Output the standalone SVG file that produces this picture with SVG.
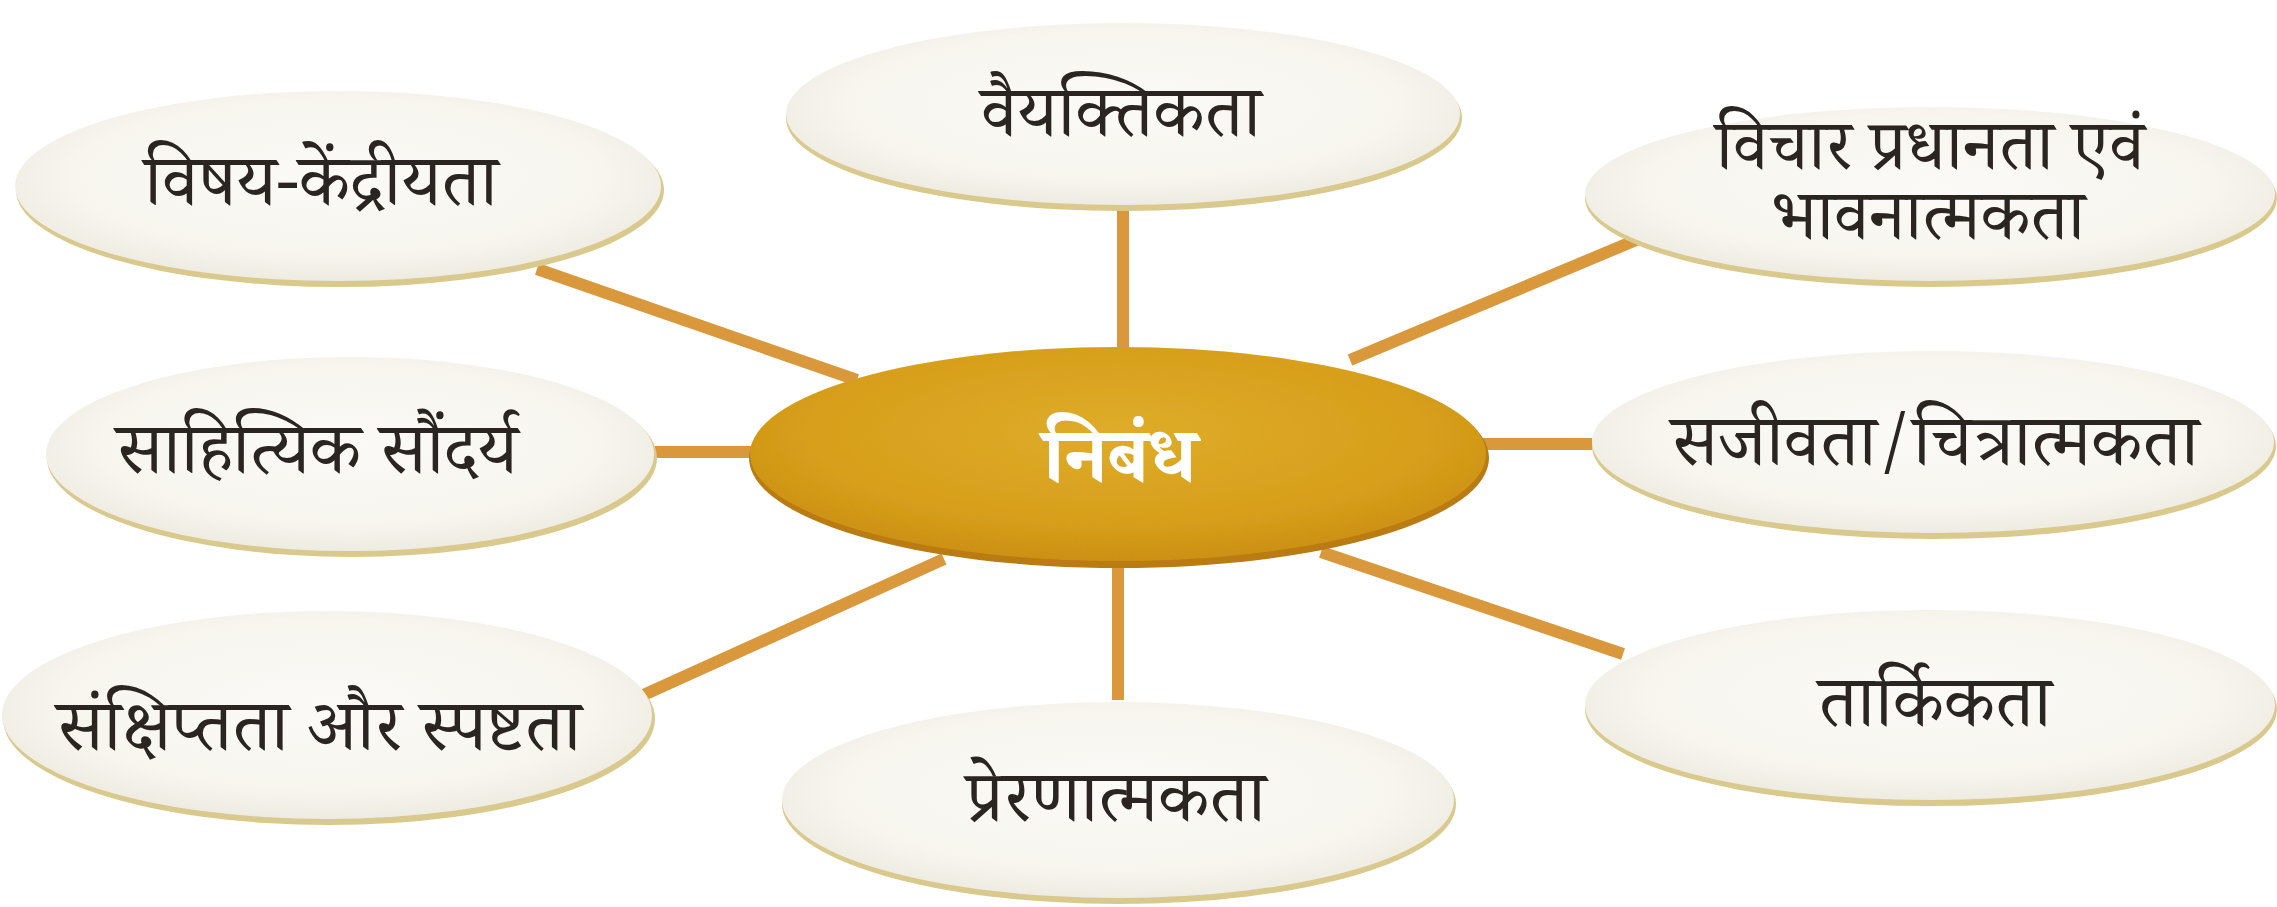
<svg xmlns="http://www.w3.org/2000/svg" width="2277" height="907" viewBox="0 0 2277 907">
<defs>
<radialGradient id="gOuter" cx="50%" cy="45%" r="55%">
<stop offset="0" stop-color="#fbfaf7"/>
<stop offset="0.75" stop-color="#f7f5ee"/>
<stop offset="1" stop-color="#eeebe2"/>
</radialGradient>
<radialGradient id="gCenter" cx="50%" cy="40%" r="60%">
<stop offset="0" stop-color="#e2ae2a"/>
<stop offset="0.7" stop-color="#d99e1c"/>
<stop offset="1" stop-color="#cc8c12"/>
</radialGradient>
<filter id="grain" x="-5%" y="-5%" width="110%" height="110%">
<feTurbulence type="fractalNoise" baseFrequency="0.8" numOctaves="2" result="n"/>
<feColorMatrix in="n" type="matrix" values="0 0 0 0 0.6  0 0 0 0 0.38  0 0 0 0 0.02  0 0 0 0.3 0" result="c"/>
<feComposite in="c" in2="SourceGraphic" operator="in" result="m"/>
<feMerge><feMergeNode in="SourceGraphic"/><feMergeNode in="m"/></feMerge>
</filter>
</defs>
<style>
.shadow{fill:#d9c98c;}
.outer{fill:url(#gOuter);}
.csh{fill:#b97b12;}
.center{fill:url(#gCenter);}
.lbl{font-family:"Noto Serif Devanagari","Noto Sans Devanagari","Lohit Devanagari","Noto Sans",sans-serif;font-size:72px;fill:#2a2520;text-anchor:middle;dominant-baseline:central;}
.two{font-size:70px;}
.clbl{font-family:"Noto Serif Devanagari","Noto Sans Devanagari","Lohit Devanagari","Noto Sans",sans-serif;font-size:78px;font-weight:bold;fill:#ffffff;text-anchor:middle;dominant-baseline:central;}
.conn{stroke:#d9983c;stroke-width:12;stroke-linecap:butt;fill:none;}
</style>
<rect width="2277" height="907" fill="#ffffff"/>
<g id="connectors">
<line class="conn" x1="1123" y1="205" x2="1123" y2="350"/>
<line class="conn" x1="1118" y1="560" x2="1118" y2="700"/>
<line class="conn" x1="537" y1="269" x2="857" y2="380"/>
<line class="conn" x1="655" y1="452" x2="760" y2="452"/>
<line class="conn" x1="639" y1="697" x2="944" y2="559"/>
<line class="conn" x1="1350" y1="360" x2="1648" y2="235"/>
<line class="conn" x1="1480" y1="444" x2="1592" y2="444"/>
<line class="conn" x1="1321" y1="552" x2="1623" y2="654"/>
</g>
<g id="node-vishay">
<ellipse class="shadow" cx="340" cy="190" rx="324" ry="97"/>
<ellipse class="outer" cx="338" cy="186" rx="323" ry="95"/>
<text class="lbl" x="321" y="194">विषय-केंद्रीयता</text>
</g>
<g id="node-sahityik">
<ellipse class="shadow" cx="352" cy="458" rx="305" ry="99"/>
<ellipse class="outer" cx="350" cy="454" rx="304" ry="97"/>
<text class="lbl" x="317" y="462">साहित्यिक सौंदर्य</text>
</g>
<g id="node-sankshipt">
<ellipse class="shadow" cx="329" cy="719" rx="326" ry="106"/>
<ellipse class="outer" cx="327" cy="715" rx="325" ry="104"/>
<text class="lbl" x="319" y="739">संक्षिप्तता और स्पष्टता</text>
</g>
<g id="node-vaiyaktik">
<ellipse class="shadow" cx="1124" cy="118" rx="338" ry="93"/>
<ellipse class="outer" cx="1123" cy="114" rx="337" ry="91"/>
<text class="lbl" x="1121" y="125">वैयक्तिकता</text>
</g>
<g id="node-center">
<ellipse class="csh" cx="1119" cy="458" rx="370" ry="110"/>
<ellipse class="center" cx="1118" cy="454" rx="368" ry="107" filter="url(#grain)"/>
<text class="clbl" x="1120" y="470">निबंध</text>
</g>
<g id="node-prerna">
<ellipse class="shadow" cx="1119" cy="804" rx="337" ry="100"/>
<ellipse class="outer" cx="1118" cy="800" rx="336" ry="98"/>
<text class="lbl" x="1116" y="810">प्रेरणात्मकता</text>
</g>
<g id="node-vichar">
<ellipse class="shadow" cx="1931" cy="198" rx="346" ry="89"/>
<ellipse class="outer" cx="1930" cy="194" rx="345" ry="87"/>
<text class="lbl two" x="1930" y="158"><tspan x="1930" y="158">विचार प्रधानता एवं</tspan><tspan x="1928" y="228">भावनात्मकता</tspan></text>
</g>
<g id="node-sajeev">
<ellipse class="shadow" cx="1934" cy="446" rx="342" ry="93"/>
<ellipse class="outer" cx="1933" cy="442" rx="341" ry="91"/>
<text class="lbl" x="1935" y="454">सजीवता/चित्रात्मकता</text>
</g>
<g id="node-tarkik">
<ellipse class="shadow" cx="1931" cy="709" rx="346" ry="97"/>
<ellipse class="outer" cx="1930" cy="705" rx="345" ry="95"/>
<text class="lbl" x="1935" y="715">तार्किकता</text>
</g>
</svg>
